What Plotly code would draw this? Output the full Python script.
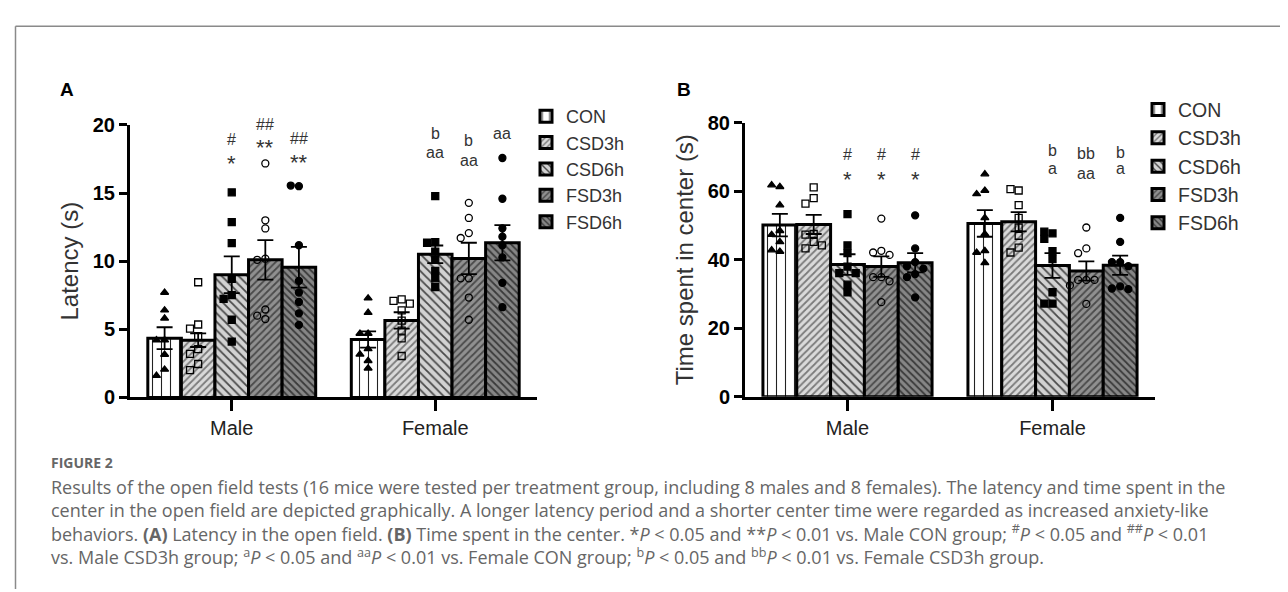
import plotly.graph_objects as go

W, H = 1288, 592

# ---------------- data ----------------
categories = ["Male", "Female"]
groups = ["CON", "CSD3h", "CSD6h", "FSD3h", "FSD6h"]

# Panel A: latency (s)
lat_mean_male = [4.35, 4.2, 9.0, 10.1, 9.55]
lat_mean_female = [4.25, 5.65, 10.5, 10.2, 11.35]
lat_sem_male = [0.8, 0.5, 1.35, 1.45, 1.5]
lat_sem_female = [0.6, 0.6, 0.65, 1.15, 1.3]

lat_pts_male = [
    [7.7, 6.4, 5.8, 4.2, 4.2, 3.15, 2.05, 1.6],
    [8.45, 5.35, 5.05, 4.5, 3.55, 3.2, 2.45, 2.0],
    [15.05, 12.86, 11.33, 8.7, 7.5, 7.23, 5.7, 4.1],
    [17.17, 13.0, 12.4, 10.18, 10.1, 6.45, 6.0, 5.75],
    [15.5, 15.55, 11.17, 8.55, 7.7, 7.0, 6.17, 5.32],
]
lat_pts_female = [
    [7.28, 6.22, 4.69, 4.69, 3.56, 3.16, 2.69, 2.14],
    [7.2, 7.09, 6.88, 6.38, 5.63, 4.9, 4.33, 3.04],
    [14.77, 11.4, 11.35, 10.7, 10.1, 9.28, 8.74, 8.1],
    [14.28, 13.17, 12.06, 11.7, 8.74, 8.74, 7.33, 5.7],
    [17.57, 14.58, 12.41, 11.8, 11.17, 10.27, 8.41, 6.62],
]

# Panel B: time spent in center (s)
time_mean_male = [50.1, 50.3, 38.6, 38.0, 39.1]
time_mean_female = [50.6, 51.1, 38.3, 36.7, 38.4]
time_sem_male = [3.3, 2.8, 3.0, 3.0, 2.8]
time_sem_female = [3.9, 2.8, 3.6, 2.8, 2.8]

time_pts_male = [
    [61.3, 61.8, 55.95, 48.45, 47.3, 45.2, 42.4, 42.8],
    [61.1, 58.0, 56.4, 47.5, 47.3, 45.2, 43.3, 44.2],
    [53.3, 44.2, 41.9, 38.0, 36.1, 36.1, 32.7, 30.5],
    [52.0, 42.6, 42.1, 41.4, 34.9, 34.9, 33.7, 27.6],
    [52.95, 43.3, 39.3, 38.1, 37.4, 35.8, 34.9, 29.0],
]
time_pts_female = [
    [65.0, 60.2, 59.2, 52.2, 47.5, 42.6, 42.1, 39.1],
    [60.2, 60.6, 55.95, 52.2, 49.4, 47.0, 43.5, 42.1],
    [47.7, 48.2, 46.1, 42.5, 40.2, 30.5, 27.2, 27.2],
    [49.4, 43.3, 41.9, 34.1, 34.1, 34.1, 32.5, 27.1],
    [52.2, 45.2, 39.3, 39.3, 38.1, 32.2, 31.6, 31.4],
]

# significance labels: (category index, group index, text, y)
lat_sig = [
    (0, 2, "#", 18.95), (0, 2, "*", 17.6),
    (0, 3, "##", 20.0), (0, 3, "**", 18.75),
    (0, 4, "##", 19.0), (0, 4, "**", 17.7),
    (1, 2, "b", 19.4), (1, 2, "aa", 17.95),
    (1, 3, "b", 18.87), (1, 3, "aa", 17.36),
    (1, 4, "bb", 20.7), (1, 4, "aa", 19.4),
]
time_sig = [
    (0, 2, "#", 70.8), (0, 2, "*", 65.3),
    (0, 3, "#", 70.8), (0, 3, "*", 65.3),
    (0, 4, "#", 70.8), (0, 4, "*", 65.3),
    (1, 2, "b", 71.9), (1, 2, "a", 66.5),
    (1, 3, "bb", 71.0), (1, 3, "aa", 65.3),
    (1, 4, "b", 71.4), (1, 4, "a", 66.5),
]

caption_title = "FIGURE 2"
caption_lines = [
    "Results of the open field tests (16 mice were tested per treatment group, including 8 males and 8 females). The latency and time spent in the",
    "center in the open field are depicted graphically. A longer latency period and a shorter center time were regarded as increased anxiety-like",
    "behaviors. <b>(A)</b> Latency in the open field. <b>(B)</b> Time spent in the center. *<i>P</i> &lt; 0.05 and **<i>P</i> &lt; 0.01 vs. Male CON group; <sup>#</sup><i>P</i> &lt; 0.05 and <sup>##</sup><i>P</i> &lt; 0.01",
    "vs. Male CSD3h group; <sup>a</sup><i>P</i> &lt; 0.05 and <sup>aa</sup><i>P</i> &lt; 0.01 vs. Female CON group; <sup>b</sup><i>P</i> &lt; 0.05 and <sup>bb</sup><i>P</i> &lt; 0.01 vs. Female CSD3h group.",
]

# ---------------- styles ----------------
patterns = [
    dict(shape="|", bgcolor="white", fgcolor="#222222", size=9, solidity=0.12, fillmode="replace"),
    dict(shape="/", bgcolor="#dadada", fgcolor="#7a7a7a", size=5, solidity=0.35, fillmode="replace"),
    dict(shape="\\", bgcolor="#d2d2d2", fgcolor="#4a4a4a", size=6, solidity=0.3, fillmode="replace"),
    dict(shape="/", bgcolor="#909090", fgcolor="#4a4a4a", size=5, solidity=0.35, fillmode="replace"),
    dict(shape="\\", bgcolor="#868686", fgcolor="#3a3a3a", size=5, solidity=0.35, fillmode="replace"),
]
symbols = ["triangle-up", "square-open", "square", "circle-open", "circle"]
sym_size = [7, 7, 7, 7, 7]

BARGAP = 0.175
BW = (1 - BARGAP) / len(groups)
FONT = "Liberation Sans, Arial, sans-serif"


def swarm(vals, thresh, step):
    placed = []
    out = []
    for v in vals:
        for c in [0, -1, 1, -2, 2, -3, 3]:
            if all(abs(v - pv) >= thresh or c != pc for pv, pc in placed):
                break
        placed.append((v, c))
        out.append(c * step)
    return out


fig = go.Figure()

panels = [
    dict(xa="x", ya="y", legend="legend", mean=(lat_mean_male, lat_mean_female),
         sem=(lat_sem_male, lat_sem_female), pts=(lat_pts_male, lat_pts_female),
         thresh=0.5, sig=lat_sig),
    dict(xa="x2", ya="y2", legend="legend2", mean=(time_mean_male, time_mean_female),
         sem=(time_sem_male, time_sem_female), pts=(time_pts_male, time_pts_female),
         thresh=2.0, sig=time_sig),
]

annotations = []
for p in panels:
    for i, g in enumerate(groups):
        fig.add_trace(go.Bar(
            x=[0, 1], y=[p["mean"][0][i], p["mean"][1][i]],
            name=g, legend=p["legend"], xaxis=p["xa"], yaxis=p["ya"],
            marker=dict(pattern=patterns[i], line=dict(color="black", width=3)),
            error_y=dict(type="data", array=[p["sem"][0][i], p["sem"][1][i]],
                         color="black", thickness=1.8, width=8),
            hoverinfo="skip",
        ))
    for i, g in enumerate(groups):
        xs, ys = [], []
        for c in range(2):
            vals = p["pts"][c][i]
            offs = swarm(vals, p["thresh"], 0.04)
            center = c + (i - (len(groups) - 1) / 2) * BW
            xs += [center + o for o in offs]
            ys += vals
        fig.add_trace(go.Scatter(
            x=xs, y=ys, mode="markers", xaxis=p["xa"], yaxis=p["ya"], showlegend=False,
            marker=dict(symbol=symbols[i], size=sym_size[i], color="black",
                        line=dict(color="black", width=1.3)),
            hoverinfo="skip", cliponaxis=False,
        ))
    for c, i, txt, yv in p["sig"]:
        star = "*" in txt
        annotations.append(dict(
            x=c + (i - (len(groups) - 1) / 2) * BW, y=yv, xref=p["xa"], yref=p["ya"],
            text=txt, showarrow=False, yshift=-6 if star else 0,
            font=dict(size=22 if star else 16, color="#333333", family=FONT),
        ))

# panel letters
annotations.append(dict(x=50 / W, y=1 - 60 / H, xref="paper", yref="paper", text="<b>A</b>",
                        showarrow=False, xanchor="left", font=dict(size=19, color="black", family=FONT)))
annotations.append(dict(x=667 / W, y=1 - 60 / H, xref="paper", yref="paper", text="<b>B</b>",
                        showarrow=False, xanchor="left", font=dict(size=19, color="black", family=FONT)))

# caption
CAP_FONT = "Open Sans, Noto Sans, DejaVu Sans, sans-serif"
annotations.append(dict(x=42 / W, y=1 - 461 / H, xref="paper", yref="paper",
                        text="<b>" + caption_title + "</b>",
                        showarrow=False, xanchor="left", yanchor="middle", borderpad=0,
                        font=dict(size=14, color="#666666", family=CAP_FONT)))
annotations.append(dict(x=42 / W, y=1 - 473 / H, xref="paper", yref="paper",
                        text="<br>".join(caption_lines), align="left",
                        showarrow=False, xanchor="left", yanchor="top", borderpad=0,
                        font=dict(size=18, color="#666666", family=CAP_FONT)))

axis_common = dict(showline=True, linecolor="black", linewidth=3, ticks="outside",
                   tickcolor="black", tickwidth=3, showgrid=False, zeroline=False, mirror=False)

fig.update_layout(
    width=W, height=H, margin=dict(l=0, r=0, t=0, b=0),
    paper_bgcolor="white", plot_bgcolor="white",
    barmode="group", bargap=BARGAP, bargroupgap=0,
    showlegend=True,
    annotations=annotations,
    xaxis=dict(domain=[122 / W, 529 / W], anchor="y", range=[-0.5, 1.5], tickvals=[0, 1],
               ticktext=categories, ticklen=11,
               tickfont=dict(size=20, color="#222222", family=FONT), **axis_common),
    yaxis=dict(domain=[1 - 393 / H, 1 - 110 / H], anchor="x", range=[0, 20],
               tickvals=[0, 5, 10, 15, 20], ticklen=8,
               tickfont=dict(size=20, color="black", family=FONT, weight="bold"),
               title=dict(text="Latency (s)", font=dict(size=24, color="#333333", family=FONT), standoff=8),
               **axis_common),
    xaxis2=dict(domain=[737 / W, 1147 / W], anchor="y2", range=[-0.5, 1.5], tickvals=[0, 1],
                ticktext=categories, ticklen=11,
                tickfont=dict(size=20, color="#222222", family=FONT), **axis_common),
    yaxis2=dict(domain=[1 - 392.3 / H, 1 - 107.7 / H], anchor="x2", range=[0, 80],
                tickvals=[0, 20, 40, 60, 80], ticklen=8,
                tickfont=dict(size=20, color="black", family=FONT, weight="bold"),
                title=dict(text="Time spent in center (s)", font=dict(size=24, color="#333333", family=FONT), standoff=8),
                **axis_common),
    legend=dict(x=518 / W, y=1 - 82 / H, xanchor="left", yanchor="top",
                font=dict(size=18, color="#333333", family=FONT), bgcolor="rgba(0,0,0,0)",
                tracegroupgap=0),
    legend2=dict(x=1130 / W, y=1 - 74 / H, xanchor="left", yanchor="top",
                 font=dict(size=19.5, color="#333333", family=FONT), bgcolor="rgba(0,0,0,0)",
                 tracegroupgap=0),
    shapes=[
        dict(type="line", xref="paper", yref="paper", x0=7.5 / W, x1=7.5 / W, y0=0, y1=1 - 7.5 / H,
             line=dict(color="#8a8a8a", width=1.5)),
        dict(type="line", xref="paper", yref="paper", x0=7.5 / W, x1=1281 / W, y0=1 - 7.5 / H, y1=1 - 7.5 / H,
             line=dict(color="#8a8a8a", width=1.5)),
        dict(type="line", xref="paper", yref="paper", x0=1281 / W, x1=1281 / W, y0=0, y1=1 - 7.5 / H,
             line=dict(color="#8a8a8a", width=1.5)),
    ],
)

fig.write_html("out.html")
